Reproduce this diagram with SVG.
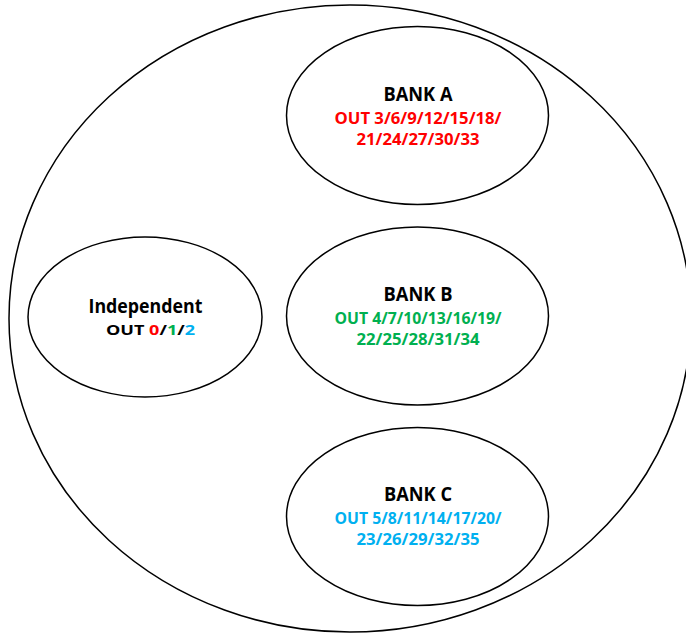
<svg xmlns="http://www.w3.org/2000/svg" width="686" height="633" viewBox="0 0 686 633">
<style>
.sh{fill:#fff;stroke:#000;stroke-width:1.5}
.t{font-family:"Open Sans","Liberation Sans",sans-serif;font-weight:bold;text-anchor:middle}
.h{font-size:20px;fill:#000}
.s{font-size:16.5px}
.r{fill:#FF0000}.g{fill:#00B050}.b{fill:#00B0F0}.k{fill:#000}
</style>
<rect width="686" height="633" fill="#fff"/>
<g id="outer"><ellipse class="sh" cx="350" cy="318.5" rx="341" ry="313.5"/></g>
<g id="connectors"></g>
<g id="bankA">
<ellipse class="sh" cx="417.5" cy="115.5" rx="131" ry="89"/>
<text class="t h" x="418" y="101" textLength="69" lengthAdjust="spacingAndGlyphs">BANK A</text>
<text class="t s r" x="418" y="124" textLength="167" lengthAdjust="spacingAndGlyphs">OUT 3/6/9/12/15/18/</text>
<text class="t s r" x="418" y="145" textLength="123" lengthAdjust="spacingAndGlyphs">21/24/27/30/33</text>
</g>
<g id="bankB">
<ellipse class="sh" cx="417.5" cy="316" rx="131" ry="89"/>
<text class="t h" x="418" y="301" textLength="69" lengthAdjust="spacingAndGlyphs">BANK B</text>
<text class="t s g" x="418" y="324" textLength="167" lengthAdjust="spacingAndGlyphs">OUT 4/7/10/13/16/19/</text>
<text class="t s g" x="418" y="345" textLength="123" lengthAdjust="spacingAndGlyphs">22/25/28/31/34</text>
</g>
<g id="bankC">
<ellipse class="sh" cx="417.5" cy="516.5" rx="131" ry="89"/>
<text class="t h" x="418" y="501" textLength="68" lengthAdjust="spacingAndGlyphs">BANK C</text>
<text class="t s b" x="418" y="524" textLength="167" lengthAdjust="spacingAndGlyphs">OUT 5/8/11/14/17/20/</text>
<text class="t s b" x="418" y="545" textLength="123" lengthAdjust="spacingAndGlyphs">23/26/29/32/35</text>
</g>
<g id="independent">
<ellipse class="sh" cx="145" cy="317" rx="117" ry="80"/>
<text class="t" x="145.5" y="312.5" font-size="19" textLength="114" lengthAdjust="spacingAndGlyphs">Independent</text>
<text class="t" x="150.5" y="335" font-size="14.5" textLength="89" lengthAdjust="spacingAndGlyphs"><tspan class="k">OUT </tspan><tspan class="r">0</tspan><tspan class="k">/</tspan><tspan class="g">1</tspan><tspan class="k">/</tspan><tspan class="b">2</tspan></text>
</g>
</svg>
